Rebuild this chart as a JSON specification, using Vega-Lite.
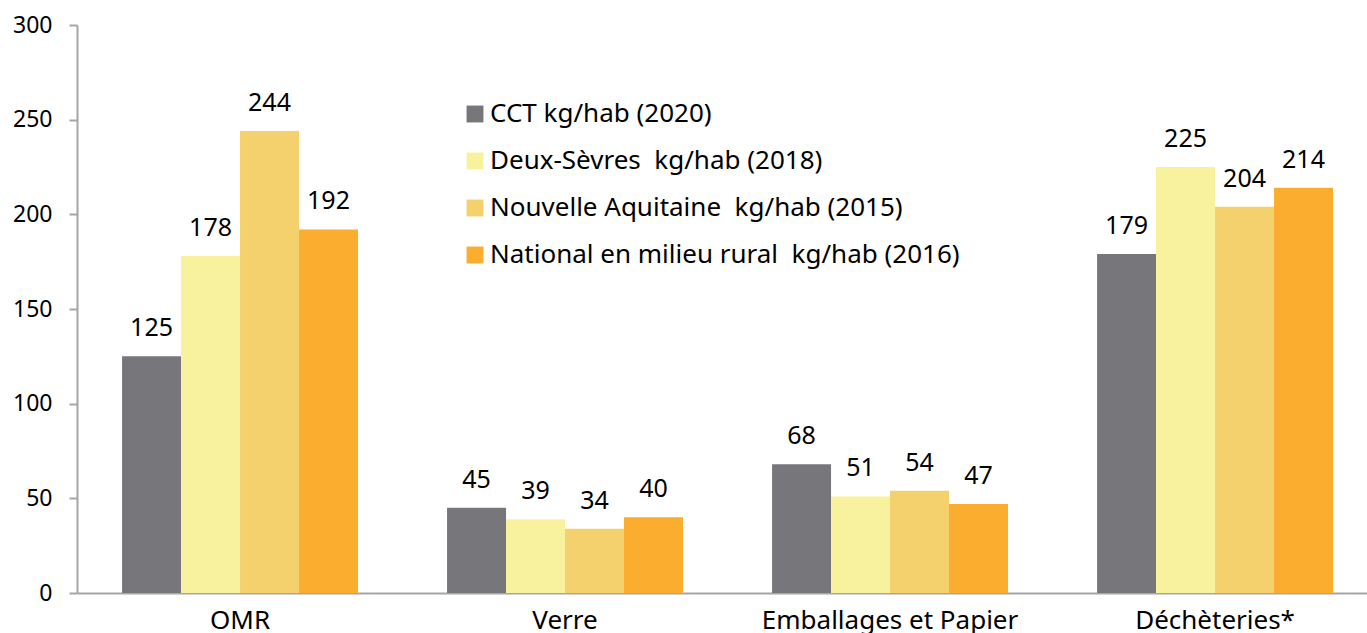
{
  "$schema": "https://vega.github.io/schema/vega-lite/v6.json",
  "width": 1290,
  "height": 568,
  "autosize": {"type": "none"},
  "padding": {"left": 77, "top": 25, "right": 0, "bottom": 40},
  "background": "white",
  "config": {
    "font": "Noto Sans",
    "view": {"stroke": null},
    "axis": {"grid": false, "domainColor": "#A6A6A6", "tickColor": "#A6A6A6", "domainWidth": 2, "tickWidth": 2, "labelColor": "#000000", "labelFont": "Noto Sans"}
  },
  "data": {
    "values": [
      {"cat": "OMR", "series": "CCT kg/hab (2020)", "value": 125},
      {"cat": "OMR", "series": "Deux-Sèvres  kg/hab (2018)", "value": 178},
      {"cat": "OMR", "series": "Nouvelle Aquitaine  kg/hab (2015)", "value": 244},
      {"cat": "OMR", "series": "National en milieu rural  kg/hab (2016)", "value": 192},
      {"cat": "Verre", "series": "CCT kg/hab (2020)", "value": 45},
      {"cat": "Verre", "series": "Deux-Sèvres  kg/hab (2018)", "value": 39},
      {"cat": "Verre", "series": "Nouvelle Aquitaine  kg/hab (2015)", "value": 34},
      {"cat": "Verre", "series": "National en milieu rural  kg/hab (2016)", "value": 40},
      {"cat": "Emballages et Papier", "series": "CCT kg/hab (2020)", "value": 68},
      {"cat": "Emballages et Papier", "series": "Deux-Sèvres  kg/hab (2018)", "value": 51},
      {"cat": "Emballages et Papier", "series": "Nouvelle Aquitaine  kg/hab (2015)", "value": 54},
      {"cat": "Emballages et Papier", "series": "National en milieu rural  kg/hab (2016)", "value": 47},
      {"cat": "Déchèteries*", "series": "CCT kg/hab (2020)", "value": 179},
      {"cat": "Déchèteries*", "series": "Deux-Sèvres  kg/hab (2018)", "value": 225},
      {"cat": "Déchèteries*", "series": "Nouvelle Aquitaine  kg/hab (2015)", "value": 204},
      {"cat": "Déchèteries*", "series": "National en milieu rural  kg/hab (2016)", "value": 214}
    ]
  },
  "encoding": {
    "x": {
      "field": "cat", "type": "nominal", "sort": null,
      "scale": {"paddingInner": 0.274, "paddingOuter": 0.1216, "align": 0.57},
      "axis": {"title": null, "labelAngle": 0, "ticks": false, "labelFontSize": 26, "labelPadding": 14, "labelBaseline": "top", "labelLimit": 600}
    },
    "xOffset": {
      "field": "series", "type": "nominal", "sort": null,
      "scale": {"paddingInner": 0, "paddingOuter": 0}
    },
    "y": {
      "field": "value", "type": "quantitative",
      "scale": {"domain": [0, 300], "nice": false},
      "axis": {"title": null, "values": [0, 50, 100, 150, 200, 250, 300], "tickSize": 8, "labelPadding": 17, "labelFontSize": 23}
    }
  },
  "layer": [
    {
      "mark": {"type": "bar"},
      "encoding": {
        "color": {
          "field": "series", "type": "nominal", "sort": null,
          "scale": {
            "domain": ["CCT kg/hab (2020)", "Deux-Sèvres  kg/hab (2018)", "Nouvelle Aquitaine  kg/hab (2015)", "National en milieu rural  kg/hab (2016)"],
            "range": ["#77777B", "#F8F29E", "#F5D16D", "#FBAD2F"]
          },
          "legend": {
            "title": null, "orient": "none", "legendX": 385, "legendY": 76, "padding": 0,
            "symbolType": "square", "symbolSize": 285, "symbolStrokeWidth": 0,
            "labelFontSize": 26, "labelFont": "Noto Sans", "labelColor": "#000000", "rowPadding": 21, "labelOffset": 2, "labelLimit": 700,
            "labelExpr": "replace(datum.label, '  ', ' \u00a0')"
          }
        }
      }
    },
    {
      "mark": {"type": "text", "fontSize": 25, "dy": -20, "baseline": "alphabetic", "color": "#000000"},
      "encoding": {"text": {"field": "value", "type": "quantitative"}}
    }
  ]
}
